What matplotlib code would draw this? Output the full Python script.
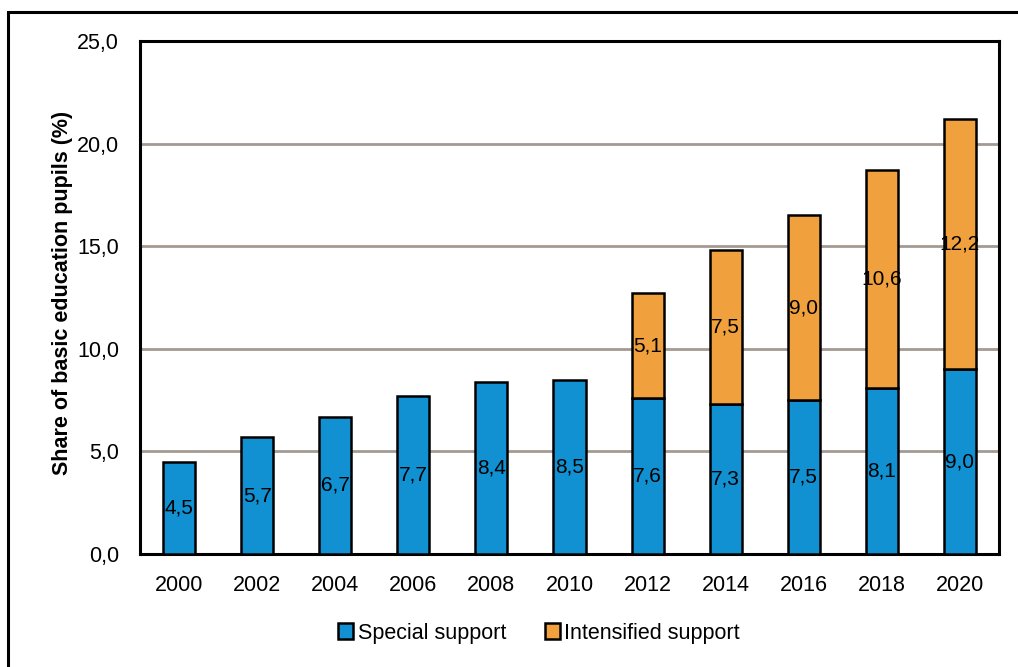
import matplotlib
matplotlib.use("Agg")
import matplotlib.pyplot as plt
from matplotlib.patches import Rectangle
import numpy as np

years = ["2000", "2002", "2004", "2006", "2008", "2010", "2012", "2014", "2016", "2018", "2020"]
special = [4.5, 5.7, 6.7, 7.7, 8.4, 8.5, 7.6, 7.3, 7.5, 8.1, 9.0]
intensified = [0, 0, 0, 0, 0, 0, 5.1, 7.5, 9.0, 10.6, 12.2]
yticks = [0, 5, 10, 15, 20, 25]

plt.rcParams['font.family'] = ['Liberation Sans Narrow', 'Liberation Sans', 'DejaVu Sans']

W, H = 1018, 667
fig = plt.figure(figsize=(W / 100, H / 100), dpi=100)
ax = fig.add_axes([140 / W, 1 - 554 / H, (999 - 140) / W, (554 - 41) / H])

# outer frame
fig.patches.append(Rectangle((8 / W, -0.1), 1.2, 1 - 12 / H + 0.1, transform=fig.transFigure,
                             fill=False, edgecolor='black', linewidth=2.2, zorder=0))

blue = '#1190d2'
orange = '#f0a03c'
x = np.arange(len(years))
w = 0.41
b1 = ax.bar(x, special, width=w, color=blue, edgecolor='black', linewidth=1.8, zorder=3,
            label='Special support')
mask = [v > 0 for v in intensified]
xi = [xx for xx, m in zip(x, mask) if m]
iv = [v for v, m in zip(intensified, mask) if m]
sb = [v for v, m in zip(special, mask) if m]
b2 = ax.bar(xi, iv, bottom=sb, width=w, color=orange, edgecolor='black', linewidth=1.8, zorder=3,
            label='Intensified support')

for xx, v in zip(x, special):
    ax.text(xx, v / 2, f"{v:.1f}".replace('.', ','), ha='center', va='center', fontsize=15, zorder=4)
for xx, v, b in zip(xi, iv, sb):
    ax.text(xx, b + v / 2, f"{v:.1f}".replace('.', ','), ha='center', va='center', fontsize=15, zorder=4)

ax.set_xlim(-0.5, len(years) - 0.5)
ax.set_ylim(0, 25)
ax.set_yticks(yticks)
ax.set_yticklabels([f"{t:.1f}".replace('.', ',') for t in yticks], fontsize=15.5)
ax.set_xticks(x)
ax.set_xticklabels(years, fontsize=15.5)
ax.tick_params(axis='both', length=0)
ax.tick_params(axis='x', pad=15)
ax.tick_params(axis='y', pad=15)
ax.yaxis.grid(True, color='#a39a92', linewidth=2, zorder=0)
ax.set_axisbelow(True)
for s in ax.spines.values():
    s.set_linewidth(2.2)
    s.set_color('black')

fig.text(63 / W, 1 - 293 / H, 'Share of basic education pupils (%)', rotation=90, ha='center', va='center',
         fontsize=15.5, fontweight='bold')

leg = fig.legend(handles=[b1, b2], loc='center', bbox_to_anchor=(539 / W, 1 - 633 / H), ncol=2,
                 frameon=False, fontsize=15.5, handlelength=0.7, handleheight=0.7, handletextpad=0.2,
                 columnspacing=1.8)

fig.savefig('out.png', dpi=100)
